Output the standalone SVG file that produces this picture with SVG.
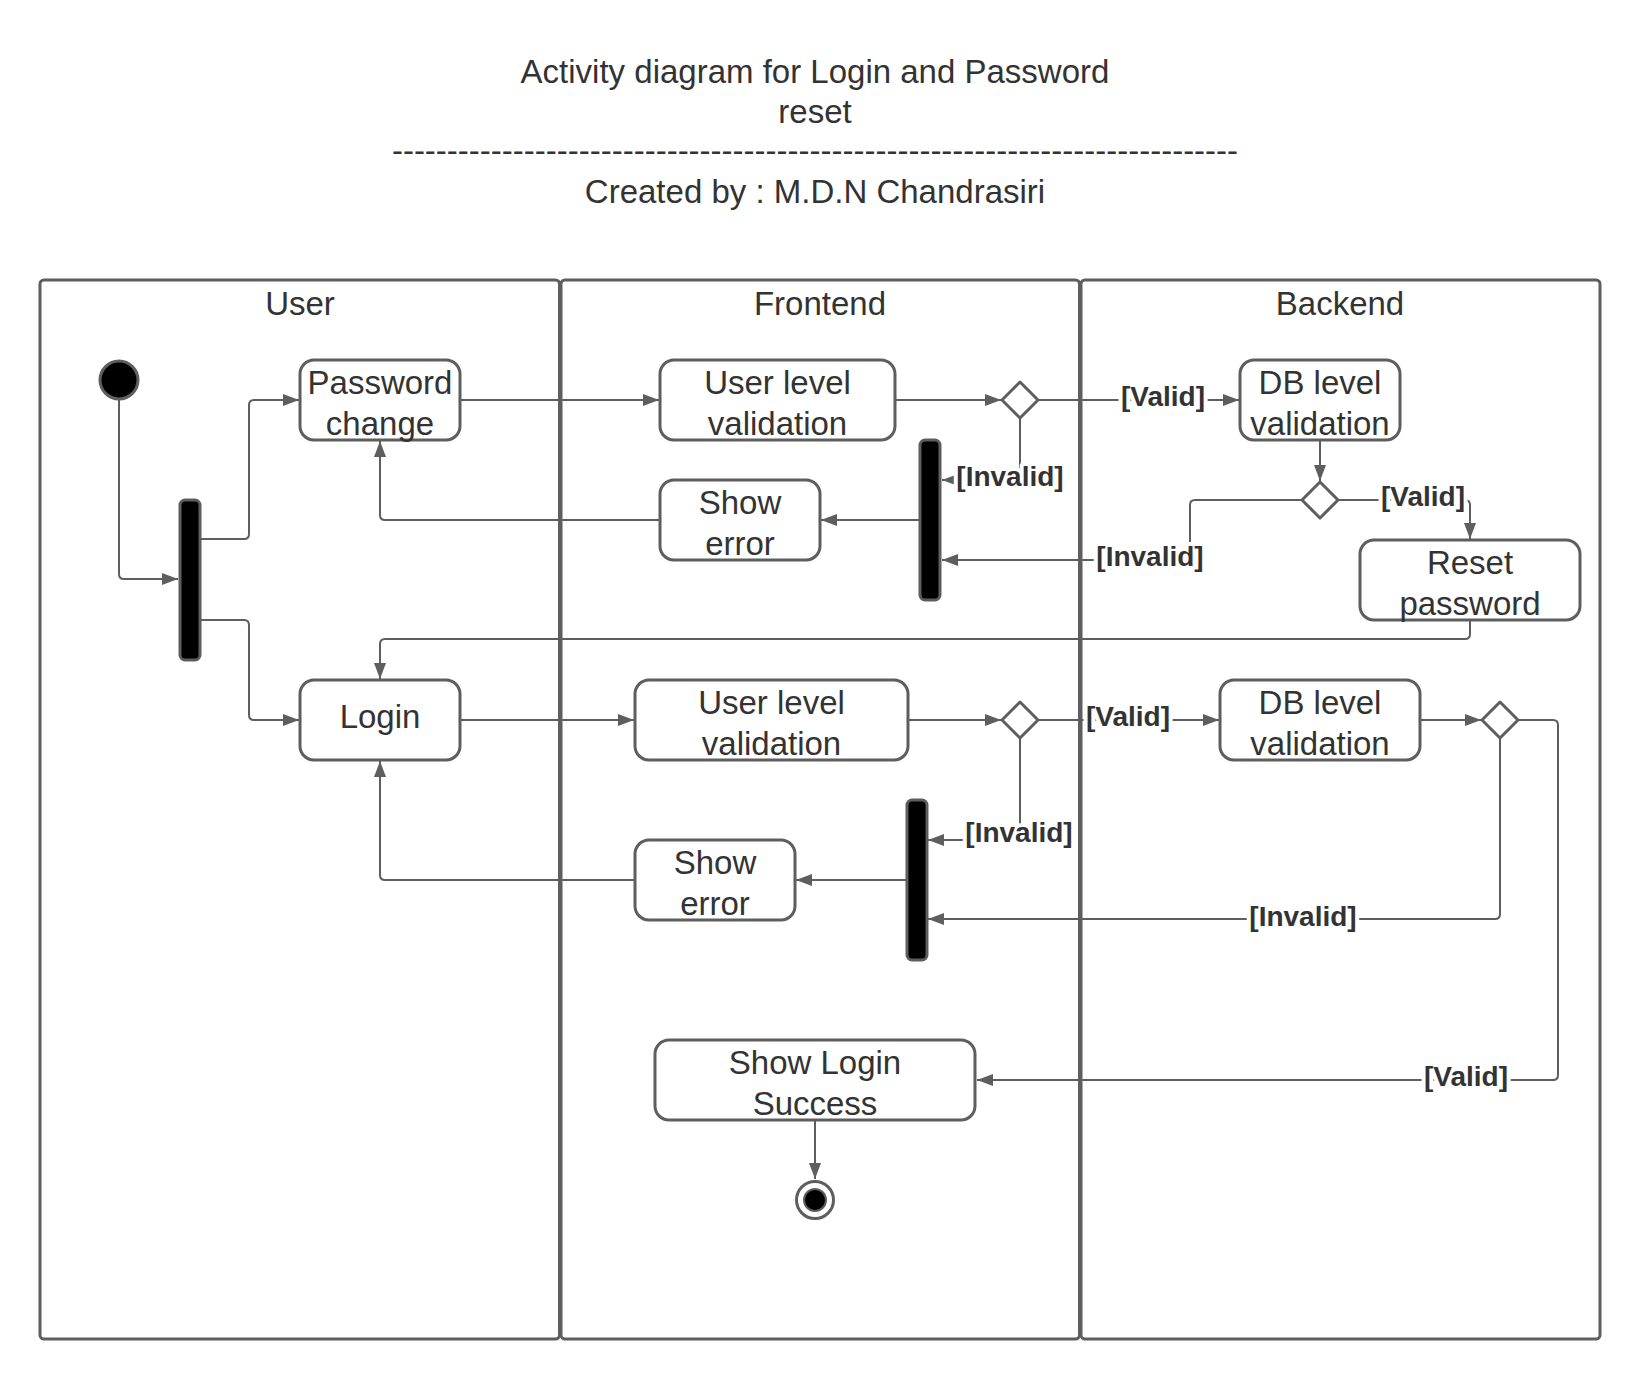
<svg xmlns="http://www.w3.org/2000/svg" width="1640" height="1380" viewBox="0 0 1640 1380">
<style>
text{font-family:"Liberation Sans",Arial,sans-serif;fill:#333333}
.t{font-size:33px;text-anchor:middle}
.lbl{font-size:28px;font-weight:bold;text-anchor:middle;paint-order:stroke;stroke:#ffffff;stroke-width:8px;stroke-linejoin:round}
.lane{fill:#ffffff;stroke:#5e5e5e;stroke-width:3}
.box{fill:#ffffff;stroke:#5e5e5e;stroke-width:3}
.bar{fill:#000000;stroke:#5e5e5e;stroke-width:3}
.dec{fill:#ffffff;stroke:#5e5e5e;stroke-width:3;stroke-linejoin:round}
.c{fill:none;stroke:#5e5e5e;stroke-width:2}
.a{marker-end:url(#ah)}
</style>
<defs>
<marker id="ah" markerUnits="userSpaceOnUse" markerWidth="17" markerHeight="13" refX="16" refY="6.5" orient="auto">
<path d="M0,0.5 L16,6.5 L0,12.5 z" fill="#5e5e5e"/>
</marker>
</defs>
<rect width="1640" height="1380" fill="#ffffff"/>
<g id="title">
<text class="t" x="815" y="83">Activity diagram for Login and Password</text>
<text class="t" x="815" y="123">reset</text>
<text class="t" x="815" y="162">-----------------------------------------------------------------------------</text>
<text class="t" x="815" y="203">Created by : M.D.N Chandrasiri</text>
</g>
<g id="lanes">
<g id="lane-user"><rect class="lane" x="40" y="280" width="519.5" height="1059" rx="4"/><text class="t" x="300" y="315">User</text></g>
<g id="lane-frontend"><rect class="lane" x="561" y="280" width="518.5" height="1059" rx="4"/><text class="t" x="820" y="315">Frontend</text></g>
<g id="lane-backend"><rect class="lane" x="1081" y="280" width="519" height="1059" rx="4"/><text class="t" x="1340" y="315">Backend</text></g>
</g>
<g id="connectors">
<path class="c a" d="M119,400 V574 Q119,579 124,579 H178"/>
<path class="c a" d="M201,539 H244 Q249,539 249,534 V405 Q249,400 254,400 H299"/>
<path class="c a" d="M201,620 H244 Q249,620 249,625 V715 Q249,720 254,720 H299"/>
<path class="c a" d="M461,400 H659"/>
<path class="c a" d="M896,400 H1001"/>
<path class="c a" d="M1039,400 H1239"/>
<path class="c a" d="M1020,419 V480 H942"/>
<path class="c a" d="M1320,441 V481"/>
<path class="c a" d="M1339,500 H1465 Q1470,500 1470,505 V539"/>
<path class="c a" d="M1301,500 H1195 Q1190,500 1190,505 V560 H942"/>
<path class="c a" d="M919,520 H821"/>
<path class="c a" d="M659,520 H385 Q380,520 380,515 V441"/>
<path class="c a" d="M1470,621 V634 Q1470,639 1465,639 H385 Q380,639 380,644 V679"/>
<path class="c a" d="M461,720 H634"/>
<path class="c a" d="M909,720 H1001"/>
<path class="c a" d="M1039,720 H1219"/>
<path class="c a" d="M1020,739 V840 H928"/>
<path class="c a" d="M1421,720 H1481"/>
<path class="c a" d="M1500,739 V914 Q1500,919 1495,919 H928"/>
<path class="c a" d="M1519,720 H1553 Q1558,720 1558,725 V1075 Q1558,1080 1553,1080 H977"/>
<path class="c a" d="M906,880 H796"/>
<path class="c a" d="M634,880 H385 Q380,880 380,875 V761"/>
<path class="c a" d="M815,1121 V1179"/>
<text class="lbl" x="1163" y="406">[Valid]</text>
<text class="lbl" x="1010" y="486">[Invalid]</text>
<text class="lbl" x="1423" y="506">[Valid]</text>
<text class="lbl" x="1150" y="566">[Invalid]</text>
<text class="lbl" x="1128" y="726">[Valid]</text>
<text class="lbl" x="1019" y="842">[Invalid]</text>
<text class="lbl" x="1303" y="926">[Invalid]</text>
<text class="lbl" x="1466" y="1086">[Valid]</text>
</g>
<g id="start"><circle cx="119" cy="380" r="19" fill="#000000" stroke="#5e5e5e" stroke-width="3"/></g>
<g id="fork1"><rect class="bar" x="180" y="500" width="20" height="160" rx="5"/></g>
<g id="password-change"><rect class="box" x="300" y="360" width="160" height="80" rx="14"/><text class="t" x="380" y="394">Password</text><text class="t" x="380" y="435">change</text></g>
<g id="user-validation-1"><rect class="box" x="660" y="360" width="235" height="80" rx="14"/><text class="t" x="777.5" y="394">User level</text><text class="t" x="777.5" y="435">validation</text></g>
<g id="decision-1"><path class="dec" d="M1020,382 L1038,400 L1020,418 L1002,400 Z"/></g>
<g id="db-validation-1"><rect class="box" x="1240" y="360" width="160" height="80" rx="14"/><text class="t" x="1320" y="394">DB level</text><text class="t" x="1320" y="435">validation</text></g>
<g id="decision-2"><path class="dec" d="M1320,482 L1338,500 L1320,518 L1302,500 Z"/></g>
<g id="reset-password"><rect class="box" x="1360" y="540" width="220" height="80" rx="14"/><text class="t" x="1470" y="574">Reset</text><text class="t" x="1470" y="615">password</text></g>
<g id="join1"><rect class="bar" x="920" y="440" width="20" height="160" rx="5"/></g>
<g id="show-error-1"><rect class="box" x="660" y="480" width="160" height="80" rx="14"/><text class="t" x="740" y="514">Show</text><text class="t" x="740" y="555">error</text></g>
<g id="login"><rect class="box" x="300" y="680" width="160" height="80" rx="14"/><text class="t" x="380" y="728">Login</text></g>
<g id="user-validation-2"><rect class="box" x="635" y="680" width="273" height="80" rx="14"/><text class="t" x="771.5" y="714">User level</text><text class="t" x="771.5" y="755">validation</text></g>
<g id="decision-3"><path class="dec" d="M1020,702 L1038,720 L1020,738 L1002,720 Z"/></g>
<g id="db-validation-2"><rect class="box" x="1220" y="680" width="200" height="80" rx="14"/><text class="t" x="1320" y="714">DB level</text><text class="t" x="1320" y="755">validation</text></g>
<g id="decision-4"><path class="dec" d="M1500,702 L1518,720 L1500,738 L1482,720 Z"/></g>
<g id="join2"><rect class="bar" x="907" y="800" width="20" height="160" rx="5"/></g>
<g id="show-error-2"><rect class="box" x="635" y="840" width="160" height="80" rx="14"/><text class="t" x="715" y="874">Show</text><text class="t" x="715" y="915">error</text></g>
<g id="show-login-success"><rect class="box" x="655" y="1040" width="320" height="80" rx="14"/><text class="t" x="815" y="1074">Show Login</text><text class="t" x="815" y="1115">Success</text></g>
<g id="end"><circle cx="815" cy="1200" r="18.5" fill="#ffffff" stroke="#5e5e5e" stroke-width="3"/><circle cx="815" cy="1200" r="11" fill="#000000" stroke="#5e5e5e" stroke-width="2"/></g>
</svg>
